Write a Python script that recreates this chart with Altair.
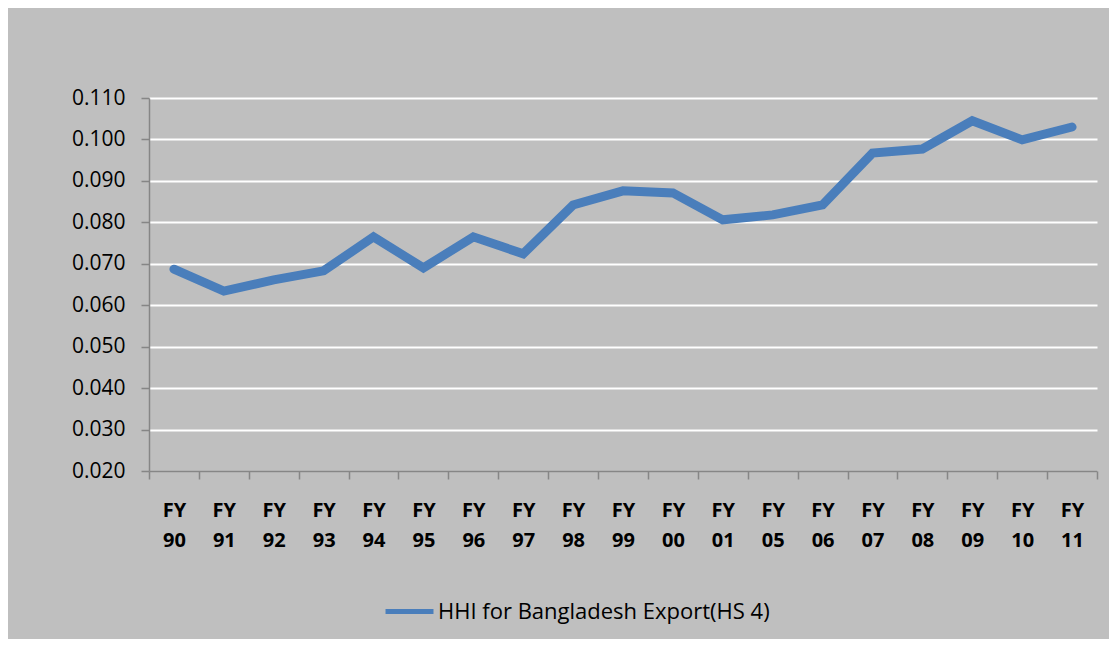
import altair as alt
import pandas as pd

categories = ["FY 90", "FY 91", "FY 92", "FY 93", "FY 94", "FY 95", "FY 96", "FY 97",
              "FY 98", "FY 99", "FY 00", "FY 01", "FY 05", "FY 06", "FY 07", "FY 08",
              "FY 09", "FY 10", "FY 11"]
hhi_values = [0.0687, 0.0634, 0.0661, 0.0683, 0.0765, 0.0690, 0.0765, 0.0724,
              0.0842, 0.0876, 0.0871, 0.0806, 0.0818, 0.0842, 0.0967, 0.0977,
              0.1045, 0.0999, 0.1030]
y_ticks = [0.02, 0.03, 0.04, 0.05, 0.06, 0.07, 0.08, 0.09, 0.10, 0.11]
series_name = "HHI for Bangladesh Export(HS 4)"

df = pd.DataFrame({"cat": categories, "val": hhi_values, "series": series_name})

FONT = "Open Sans"
AXIS_GREY = "#868686"

chart = alt.Chart(df).mark_line(strokeWidth=9, strokeCap="round").encode(
    x=alt.X("cat:N", sort=categories, bandPosition=0.5,
            scale=alt.Scale(type="band", paddingInner=0, paddingOuter=0),
            axis=alt.Axis(title=None, labelAngle=0,
                          labelExpr="isValid(datum.value) ? split(datum.value, ' ') : ''",
                          labelFont=FONT, labelFontSize=20, labelFontWeight="bold",
                          labelColor="black", labelLineHeight=30, labelPadding=21,
                          tickBand="extent", tickSize=8, tickColor=AXIS_GREY, tickWidth=1.5,
                          domainColor=AXIS_GREY, domainWidth=2, grid=False)),
    y=alt.Y("val:Q",
            scale=alt.Scale(domain=[0.02, 0.11], nice=False, zero=False),
            axis=alt.Axis(title=None, values=y_ticks, format=".3f",
                          labelFont=FONT, labelFontSize=21, labelColor="black",
                          labelPadding=16, tickSize=8, tickColor=AXIS_GREY, tickWidth=1.5,
                          domainColor=AXIS_GREY, domainWidth=1.5,
                          grid=True, gridColor="white", gridWidth=2)),
    color=alt.Color("series:N", scale=alt.Scale(range=["#4A7EBB"]),
                    legend=alt.Legend(title=None, orient="none", legendX=234, legendY=487,
                                      symbolType="stroke", symbolStrokeWidth=5,
                                      symbolSize=2300, labelFont=FONT, labelFontSize=22,
                                      labelColor="black", labelOffset=2, labelLimit=1000)),
).properties(
    width=948,
    height=373,
    autosize=alt.AutoSizeParams(type="none"),
    padding={"left": 141, "top": 90, "right": 12, "bottom": 168},
).configure(
    background="#BFBFBF",
).configure_view(
    stroke=None,
)

chart.save("out.html", embed_options={"renderer": "svg", "actions": False})
